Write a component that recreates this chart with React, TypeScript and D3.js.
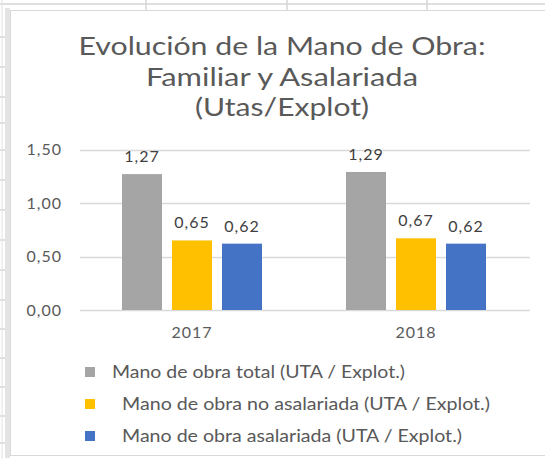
import React from 'react';
import * as d3 from 'd3';

// Chart data
const years = ['2017', '2018'];
const seriesNames = [
  'Mano de obra total (UTA / Explot.)',
  'Mano de obra no asalariada (UTA / Explot.)',
  'Mano de obra asalariada (UTA / Explot.)',
];
const totalValues = [1.27, 1.29];
const noAsalariadaValues = [0.65, 0.67];
const asalariadaValues = [0.62, 0.62];
const yTicks = [0, 0.5, 1, 1.5];
const titleLines = ['Evolución de la Mano de Obra:', 'Familiar y Asalariada', '(Utas/Explot)'];

const seriesValues = [totalValues, noAsalariadaValues, asalariadaValues];
const seriesColors = ['#a5a5a5', '#ffc000', '#4472c4'];

// Spreadsheet cell lines drawn behind the chart object
const sheetRowLines = [37, 67, 97, 123, 150, 180, 210, 240, 270, 300, 329, 358, 387, 416, 443];
const sheetColLines = [146, 287, 427];

const W = 545;
const H = 459;

const esLocale = d3.formatLocale({
  decimal: ',',
  thousands: '.',
  grouping: [3],
  currency: ['', ' €'],
});
const fmt = esLocale.format('.2f');

const FONT = 'Lato, "Open Sans", sans-serif';
const TEXT = '#595959';
const GRID = '#d9d9d9';

export default function App() {
  const x0 = d3.scaleBand<string>().domain(years).range([80, 528]);
  const x1 = d3
    .scaleBand<number>()
    .domain(seriesValues.map((_, i) => i))
    .range([-70, 70])
    .paddingInner(0.2);
  const y = d3.scaleLinear().domain([0, 1.5]).range([310, 149.5]);

  const titleWidths = [407, 272, 174];
  const titleBaselines = [55, 86, 116];
  const legendY = [372, 404, 436];
  const legendTextX = [112, 122, 122];
  const legendWidths = [293, 368, 340];

  return (
    <svg
      width={W}
      height={H}
      style={{ position: 'absolute', left: 0, top: 0, display: 'block', background: '#fff' }}
    >
      {/* spreadsheet background */}
      <rect x={0} y={0} width={W} height={H} fill="#ffffff" />
      <line x1={0} x2={W} y1={4} y2={4} stroke="#d4d4d4" strokeWidth={1.5} />
      {sheetColLines.map((cx) => (
        <line key={cx} x1={cx} x2={cx} y1={0} y2={10} stroke="#d4d4d4" strokeWidth={1.5} />
      ))}
      {sheetRowLines.map((ry) => (
        <line key={ry} x1={0} x2={6} y1={ry} y2={ry} stroke="#d4d4d4" strokeWidth={1.5} />
      ))}
      <line x1={2} x2={2} y1={0} y2={H} stroke="#e2e2e2" strokeWidth={1} />

      {/* chart object */}
      <rect x={5} y={8} width={5} height={450} fill="#e4e4e4" />
      <rect x={10.5} y={10.5} width={W} height={445} fill="#ffffff" stroke="#d9d9d9" strokeWidth={1} />

      {/* title */}
      {titleLines.map((t, i) => (
        <text
          key={t}
          x={282}
          y={titleBaselines[i]}
          textAnchor="middle"
          fontFamily={FONT}
          fontSize={25}
          fill={TEXT}
          textLength={titleWidths[i]}
          lengthAdjust="spacingAndGlyphs"
        >
          {t}
        </text>
      ))}

      {/* gridlines and y axis labels */}
      {yTicks.map((v) => (
        <g key={v}>
          <line
            x1={80}
            x2={530}
            y1={Math.round(y(v)) + 0.5}
            y2={Math.round(y(v)) + 0.5}
            stroke={GRID}
            strokeWidth={1.5}
          />
          <text
            x={62}
            y={y(v) + 5.5}
            textAnchor="end"
            fontFamily={FONT}
            fontSize={16}
            letterSpacing={1}
            fill={TEXT}
          >
            {fmt(v)}
          </text>
        </g>
      ))}

      {/* bars and data labels */}
      {years.map((yr, gi) => {
        const cx = (x0(yr) ?? 0) + x0.bandwidth() / 2;
        return (
          <g key={yr}>
            {seriesValues.map((vals, si) => {
              const bx = cx + (x1(si) ?? 0);
              const v = vals[gi];
              return (
                <g key={si}>
                  <rect
                    x={bx}
                    y={y(v)}
                    width={x1.bandwidth()}
                    height={y(0) - y(v)}
                    fill={seriesColors[si]}
                  />
                  <text
                    x={bx + x1.bandwidth() / 2}
                    y={y(v) - 12}
                    textAnchor="middle"
                    fontFamily={FONT}
                    fontSize={16}
                    letterSpacing={1}
                    fill="#404040"
                  >
                    {fmt(v)}
                  </text>
                </g>
              );
            })}
            <text
              x={cx}
              y={338}
              textAnchor="middle"
              fontFamily={FONT}
              fontSize={16}
              letterSpacing={1}
              fill={TEXT}
            >
              {yr}
            </text>
          </g>
        );
      })}

      {/* legend */}
      {seriesNames.map((name, i) => (
        <g key={name}>
          <rect x={85} y={legendY[i] - 5} width={10} height={10} fill={seriesColors[i]} />
          <text
            x={legendTextX[i]}
            y={legendY[i] + 6}
            fontFamily={FONT}
            fontSize={16.5}
            fill={TEXT}
            textLength={legendWidths[i]}
            lengthAdjust="spacingAndGlyphs"
          >
            {name}
          </text>
        </g>
      ))}
    </svg>
  );
}
